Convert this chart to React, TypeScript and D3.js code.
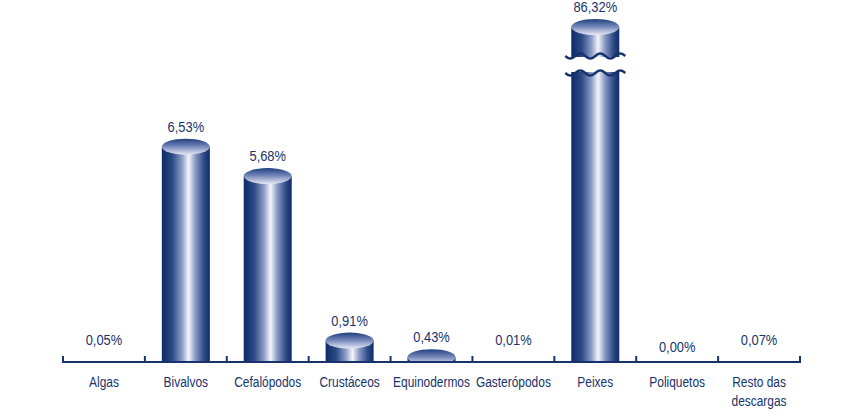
import { useEffect, useRef } from "react";
import * as d3 from "d3";

const categories = [
  "Algas",
  "Bivalvos",
  "Cefalópodos",
  "Crustáceos",
  "Equinodermos",
  "Gasterópodos",
  "Peixes",
  "Poliquetos",
  "Resto das descargas",
];
const values = [0.05, 6.53, 5.68, 0.91, 0.43, 0.01, 86.32, 0.0, 0.07];
const labels = ["0,05%", "6,53%", "5,68%", "0,91%", "0,43%", "0,01%", "86,32%", "0,00%", "0,07%"];
// values above this are drawn with a broken bar
const breakAt = 10;

const App = () => {
  const svgRef = useRef<SVGSVGElement>(null);

  useEffect(() => {
    if (!svgRef.current) return;
    const svg = d3.select(svgRef.current);
    svg.selectAll("*").remove();

    const width = 857;
    const height = 414;
    const axisY = 362;
    const ink = "#17336d";
    // no narrow font installed: squeeze Liberation Sans horizontally
    const font = "'Liberation Sans', Arial, sans-serif";

    svg.attr("viewBox", `0 0 ${width} ${height}`);

    const x = d3.scaleBand().domain(categories).range([63, 800]).padding(0);
    // base of the cylinder sits a little below the axis line
    const y = d3.scaleLinear().domain([0, breakAt]).range([372, 27]);

    const barW = 48;
    const rx = barW / 2;
    const ry = 8;

    const defs = svg.append("defs");
    const side = defs.append("linearGradient").attr("id", "side").attr("x1", "0%").attr("x2", "100%");
    [
      ["0%", "#0e2b67"],
      ["22%", "#2c4a86"],
      ["42%", "#8d9cc6"],
      ["56%", "#f4f5fb"],
      ["70%", "#8a98c4"],
      ["88%", "#2d4a86"],
      ["100%", "#0e2b67"],
    ].forEach(([o, c]) => side.append("stop").attr("offset", o).attr("stop-color", c));

    const top = defs.append("linearGradient").attr("id", "top").attr("x1", "0%").attr("y1", "0%").attr("x2", "0%").attr("y2", "100%");
    [
      ["0%", "#1f3f7e"],
      ["45%", "#6f82b6"],
      ["100%", "#e6e8f4"],
    ].forEach(([o, c]) => top.append("stop").attr("offset", o).attr("stop-color", c));

    defs
      .append("clipPath")
      .attr("id", "plot")
      .append("rect")
      .attr("x", 0)
      .attr("y", 0)
      .attr("width", width)
      .attr("height", axisY);

    const bars = svg
      .append("g")
      .attr("clip-path", "url(#plot)")
      .selectAll("g")
      .data(categories.map((c, i) => ({ c, v: values[i] })))
      .join("g");

    const cx = (d: { c: string }) => x(d.c)! + x.bandwidth() / 2;
    const ty = (d: { v: number }) => y(Math.min(d.v, breakAt));

    bars
      .append("rect")
      .attr("x", (d) => cx(d) - rx)
      .attr("y", (d) => ty(d))
      .attr("width", barW)
      .attr("height", (d) => y(0) - ty(d))
      .attr("fill", "url(#side)");

    bars
      .append("ellipse")
      .attr("cx", (d) => cx(d))
      .attr("cy", (d) => y(0))
      .attr("rx", rx)
      .attr("ry", ry)
      .attr("fill", "url(#side)");

    bars
      .append("ellipse")
      .attr("cx", (d) => cx(d))
      .attr("cy", (d) => ty(d))
      .attr("rx", rx)
      .attr("ry", ry)
      .attr("fill", "url(#top)");

    // break for bars beyond the cap
    const broken = categories.filter((_, i) => values[i] > breakAt);
    const wave = (x0: number, x1: number, yy: number) => {
      const pts: [number, number][] = [];
      for (let px = x0; px <= x1; px += 1) {
        pts.push([px, yy + 2.5 * Math.sin(((px - x0) / (x1 - x0)) * Math.PI * 6)]);
      }
      return d3.line()(pts);
    };
    broken.forEach((c) => {
      const m = x(c)! + x.bandwidth() / 2;
      svg
        .append("rect")
        .attr("x", m - rx - 6)
        .attr("y", 57)
        .attr("width", barW + 12)
        .attr("height", 15)
        .attr("fill", "#fff");
      [56, 73].forEach((yy) =>
        svg
          .append("path")
          .attr("d", wave(m - rx - 6, m + rx + 6, yy))
          .attr("fill", "none")
          .attr("stroke", ink)
          .attr("stroke-width", 2.5)
      );
    });

    // axis
    svg
      .append("line")
      .attr("x1", 63)
      .attr("x2", 800)
      .attr("y1", axisY)
      .attr("y2", axisY)
      .attr("stroke", ink)
      .attr("stroke-width", 2);
    const tickXs = categories.map((c) => x(c)!).concat([x.range()[1]]);
    svg
      .selectAll("line.tick")
      .data(tickXs)
      .join("line")
      .attr("class", "tick")
      .attr("x1", (d) => d)
      .attr("x2", (d) => d)
      .attr("y1", axisY - 6)
      .attr("y2", axisY + 1)
      .attr("stroke", ink)
      .attr("stroke-width", 2);

    // value labels
    svg
      .selectAll("text.value")
      .data(categories.map((c, i) => ({ c, v: values[i], l: labels[i] })))
      .join("text")
      .attr("class", "value")
      .attr("transform", (d) => {
        const ly = d.v === 0 ? axisY - 10 : Math.min(ty(d) - ry - 7, axisY - 17);
        return `translate(${cx(d)},${ly}) scale(0.92,1)`;
      })
      .attr("text-anchor", "middle")
      .attr("fill", ink)
      .attr("font-family", font)
      .attr("font-size", "14px")
      .text((d) => d.l);

    // category labels
    const cat = svg
      .selectAll("text.cat")
      .data(categories)
      .join("text")
      .attr("class", "cat")
      .attr("transform", (d) => `translate(${x(d)! + x.bandwidth() / 2},387) scale(0.77,1)`)
      .attr("text-anchor", "middle")
      .attr("fill", ink)
      .attr("font-family", font)
      .attr("font-size", "15.5px");
    cat.each(function (d) {
      const words = d === "Resto das descargas" ? ["Resto das", "descargas"] : [d];
      const t = d3.select(this);
      words.forEach((w, i) =>
        t
          .append("tspan")
          .attr("x", 0)
          .attr("dy", i === 0 ? 0 : 19)
          .text(w)
      );
    });
  }, []);

  return (
    <svg
      ref={svgRef}
      width={857}
      height={414}
      style={{ position: "absolute", left: 0, top: 0, background: "#fff" }}
    />
  );
};

export default App;
